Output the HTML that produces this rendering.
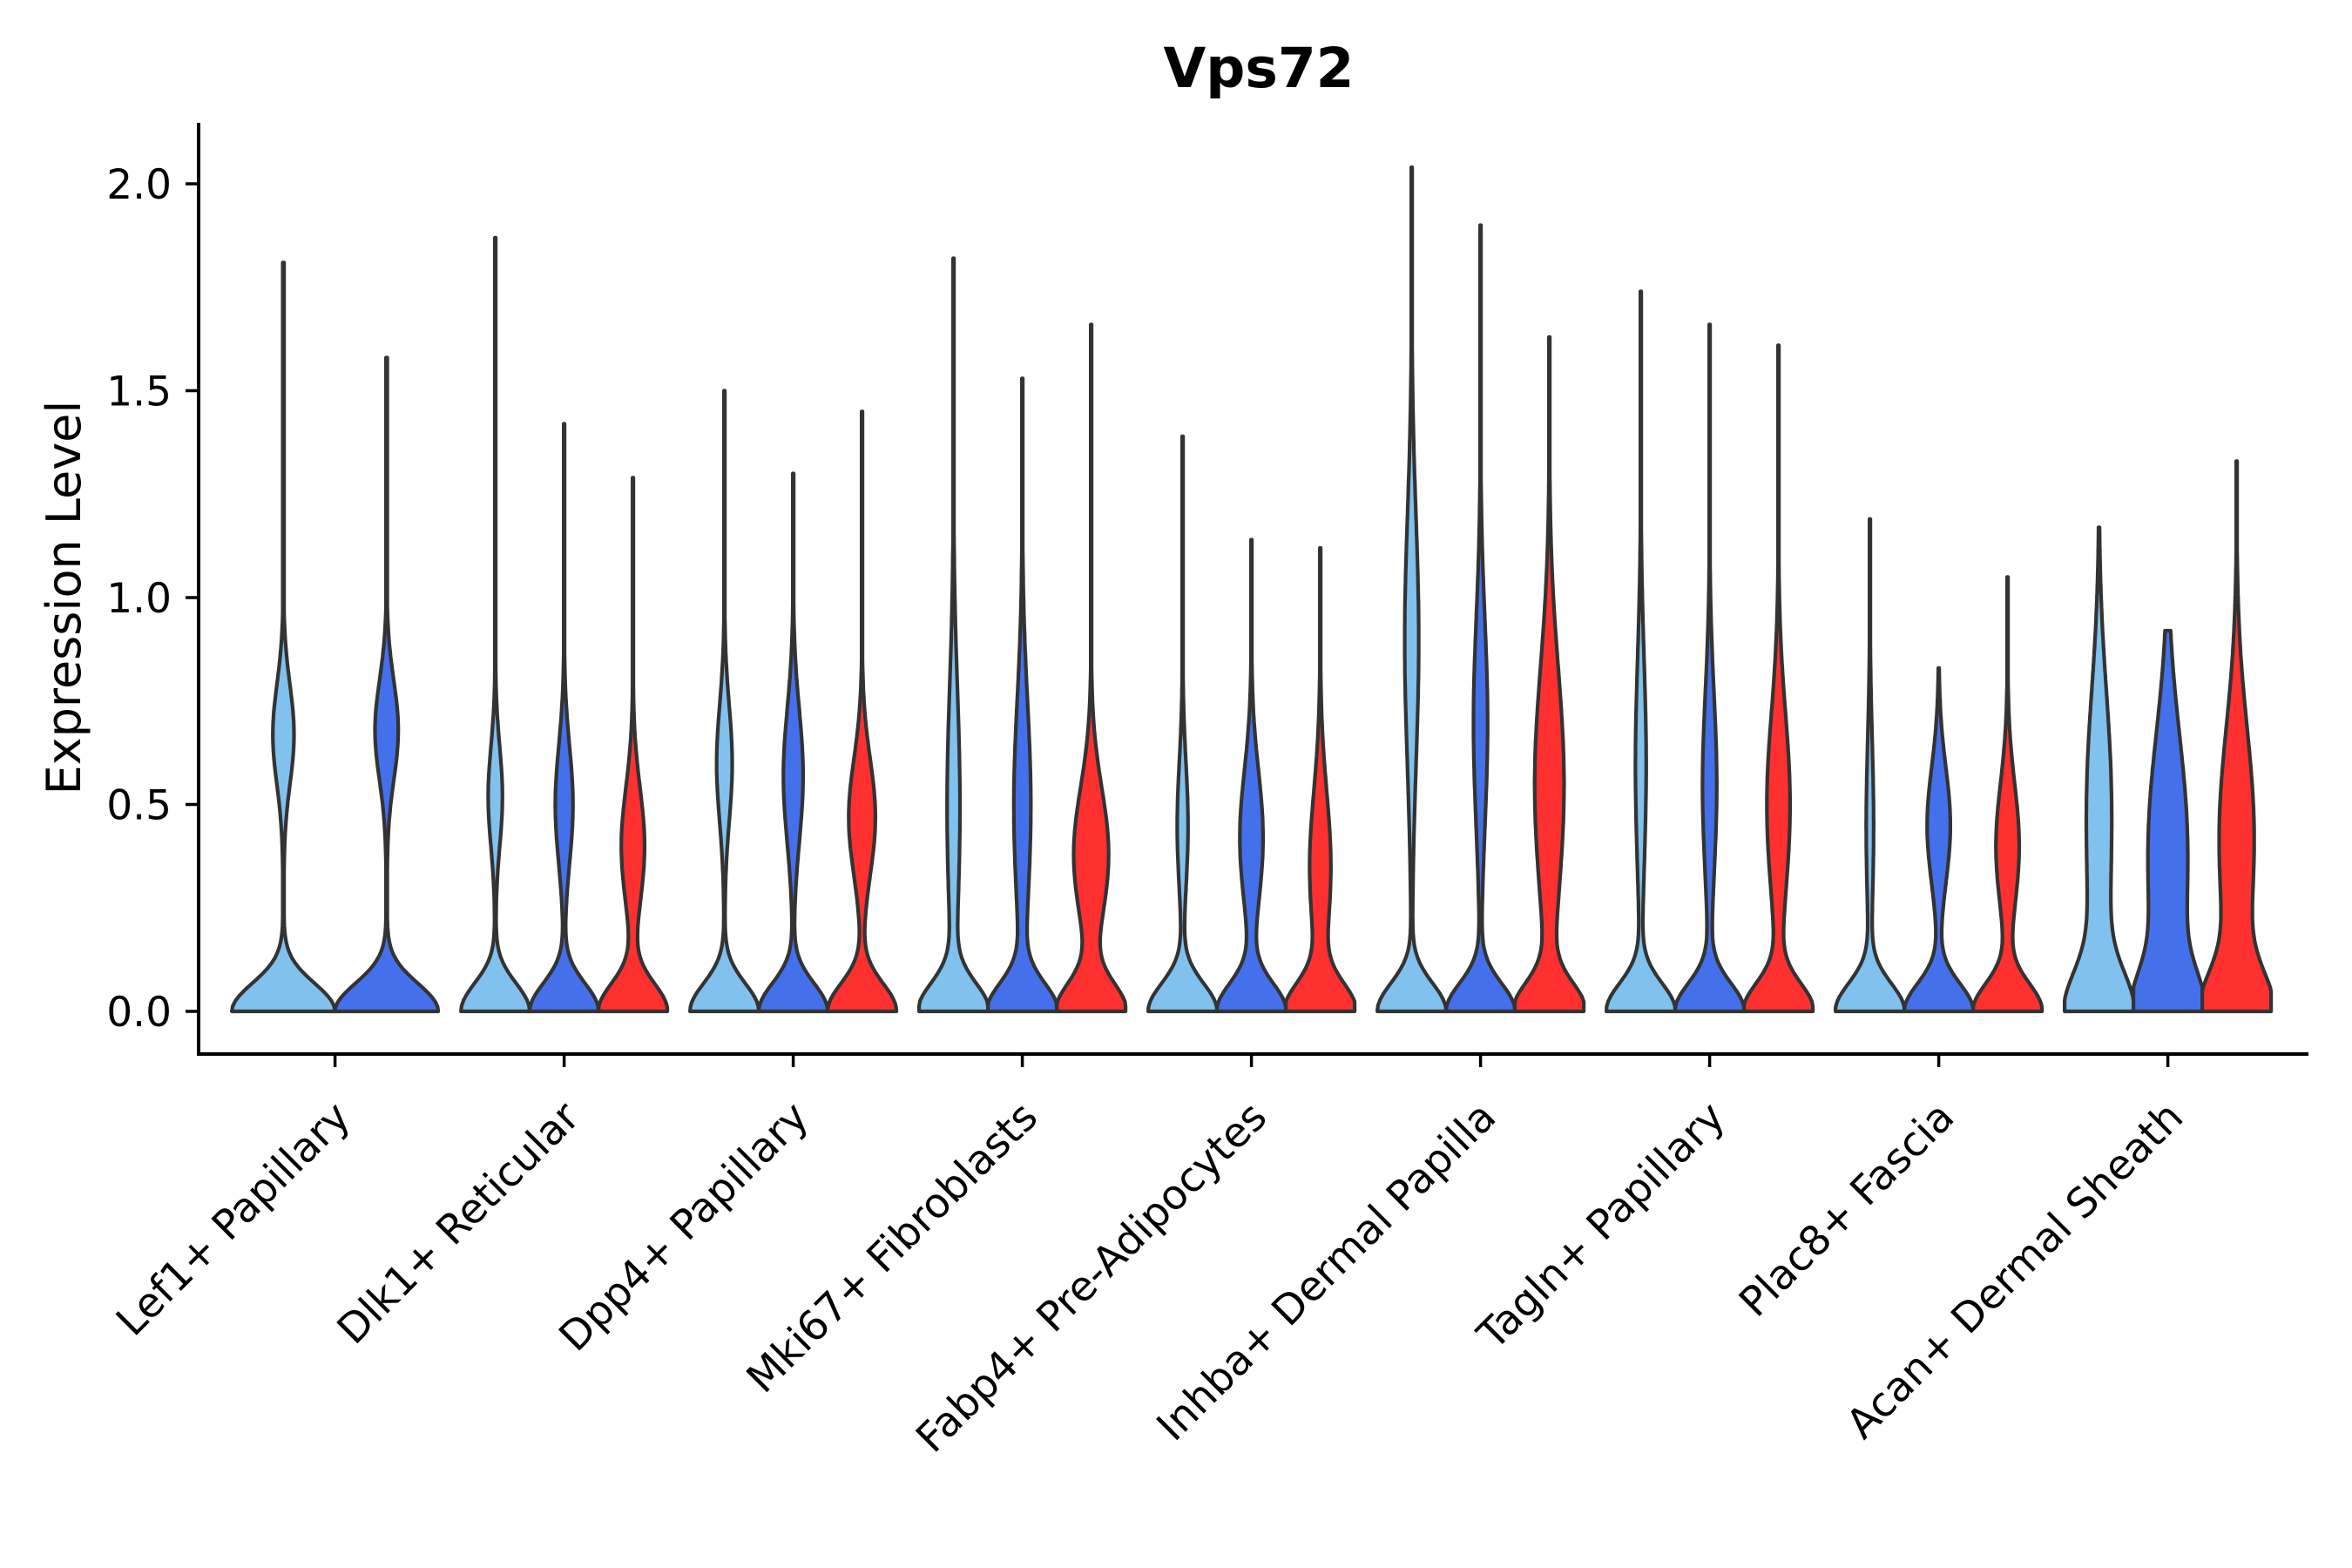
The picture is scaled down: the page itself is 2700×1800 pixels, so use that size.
<!DOCTYPE html>
<html><head><meta charset="utf-8">
<style>
html,body{margin:0;padding:0;background:#fff;}
svg{display:block;font-family:"DejaVu Sans","Liberation Sans",sans-serif;}
</style></head>
<body>
<svg id="chart" width="2700" height="1800" viewBox="0 0 2700 1800" xmlns="http://www.w3.org/2000/svg">
<rect width="2700" height="1800" fill="#fff"/>
<text x="1445" y="100" font-size="63" font-weight="bold" text-anchor="middle">Vps72</text>
<text transform="translate(92,686) rotate(-90)" font-size="54" text-anchor="middle">Expression Level</text>
<g id="violins"></g>
<g id="axes"></g>
</svg>
<script>
const categories = ["Lef1+ Papillary","Dlk1+ Reticular","Dpp4+ Papillary","Mki67+ Fibroblasts","Fabp4+ Pre-Adipocytes","Inhba+ Dermal Papilla","Tagln+ Papillary","Plac8+ Fascia","Acan+ Dermal Sheath"];
const groups = ["light","blue","red"];
const groupColors = ["#80C1EE","#4570EB","#FF3030"];
// max expression per violin (null = group absent)
const tops = [[1.81,1.58,null],[1.87,1.42,1.29],[1.50,1.30,1.45],[1.82,1.53,1.66],[1.39,1.14,1.12],[2.04,1.90,1.63],[1.74,1.66,1.61],[1.19,0.83,1.05],[1.17,0.92,1.33]];
// location of upper density mode
const modes = [[0.67,0.68,null],[0.52,0.50,0.40],[0.60,0.57,0.47],[0.50,0.50,0.38],[0.45,0.42,0.35],[0.90,0.70,0.55],[0.60,0.55,0.50],[0.45,0.45,0.40],[0.55,0.45,0.45]];
// relative width of upper mode
const modeWidths = [[0.20,0.22,null],[0.20,0.25,0.33],[0.22,0.28,0.38],[0.18,0.24,0.50],[0.15,0.33,0.30],[0.20,0.20,0.42],[0.15,0.20,0.33],[0.10,0.33,0.33],[0.30,0.45,0.45]];
// spread of upper mode
const modeSpreads = [[0.12,0.12,null],[0.12,0.14,0.14],[0.14,0.16,0.14],[0.28,0.25,0.16],[0.15,0.16,0.18],[0.30,0.25,0.28],[0.25,0.22,0.22],[0.20,0.14,0.15],[0.25,0.25,0.25]];
// residual width at the waist above zero peak
const waists = [[0.01,0.01,null],[0.01,0.01,0.01],[0.01,0.01,0.01],[0.01,0.01,0.01],[0.01,0.01,0.01],[0.01,0.01,0.01],[0.01,0.01,0.01],[0.01,0.01,0.01],[0.25,0.30,0.15]];
const yTicks = [0,0.5,1.0,1.5,2.0];
const yTickLabels = ["0.0","0.5","1.0","1.5","2.0"];

const NS="http://www.w3.org/2000/svg";
const plot={left:228,right:2650,axisY:1210,top:141};
function yScale(v){return 1161 - v*475;}
function xScale(i){return 384.6 + i*263;}

const vg=document.getElementById('violins');
categories.forEach((cat,ci)=>{
  const present=[];
  tops[ci].forEach((t,gi)=>{if(t!==null)present.push(gi);});
  const n=present.length;
  const slot=237/n;
  present.forEach((gi,k)=>{
    const cx=xScale(ci)-118.5+slot*(k+0.5);
    const maxHW=slot/2;
    const top=tops[ci][gi],m=modes[ci][gi],w=modeWidths[ci][gi],s=modeSpreads[ci][gi],wa=waists[ci][gi];
    const steps=140;const pts=[];
    for(let j=0;j<=steps;j++){
      const y=top*j/steps;
      let base;
      if(wa>0.1) base=(1-wa)*Math.exp(-Math.pow(y/0.13,2))+wa*Math.exp(-Math.pow(y/0.45,2));
      else base=(1-wa)*Math.exp(-Math.pow(y/0.095,2))+wa*Math.exp(-Math.pow(y/0.9,2));
      const bump=w*Math.exp(-Math.pow((y-m)/s,2)/2);
      const hw=Math.max(0.012,Math.min(1,base+bump));
      pts.push([y,hw*maxHW]);
    }
    let d="";
    pts.forEach((p,j)=>{d+=(j?"L":"M")+(cx-p[1]).toFixed(1)+","+yScale(p[0]).toFixed(1);});
    for(let j=pts.length-1;j>=0;j--){const p=pts[j];d+="L"+(cx+p[1]).toFixed(1)+","+yScale(p[0]).toFixed(1);}
    d+="Z";
    const path=document.createElementNS(NS,'path');
    path.setAttribute('d',d);
    path.setAttribute('fill',groupColors[gi]);
    path.setAttribute('stroke','#333');
    path.setAttribute('stroke-width','4.2');
    path.setAttribute('stroke-linejoin','round');
    
    
    vg.appendChild(path);
  });
});

const ag=document.getElementById('axes');
function mk(tag,attrs,txt){const e=document.createElementNS(NS,tag);for(const k in attrs)e.setAttribute(k,attrs[k]);if(txt!==undefined)e.textContent=txt;ag.appendChild(e);return e;}
const yl=mk('line',{x1:plot.left,y1:plot.top,x2:plot.left,y2:plot.axisY+2,stroke:'#000','stroke-width':4});


const xl=mk('line',{x1:plot.left-2,y1:plot.axisY,x2:plot.right,y2:plot.axisY,stroke:'#000','stroke-width':4});


yTicks.forEach((v,i)=>{
  const t=mk('line',{x1:plot.left-15,y1:yScale(v),x2:plot.left,y2:yScale(v),stroke:'#000','stroke-width':3.5});
  
  
  const l=mk('text',{x:197,y:yScale(v)+17,'font-size':47,'text-anchor':'end',fill:'#000'},yTickLabels[i]);
  
  
});
categories.forEach((c,i)=>{
  const x=xScale(i);
  const t=mk('line',{x1:x,y1:plot.axisY,x2:x,y2:plot.axisY+15,stroke:'#000','stroke-width':3.5});
  
  
  const l=mk('text',{transform:'translate('+(x+20)+','+(plot.axisY+75)+') rotate(-45)','font-size':47,'text-anchor':'end',fill:'#000'},c);
  
  
});
</script>
</body></html>
